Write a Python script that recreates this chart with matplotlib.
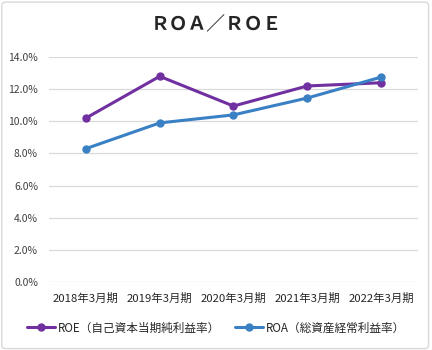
import matplotlib
matplotlib.use("Agg")
import matplotlib.pyplot as plt
from matplotlib.patches import FancyBboxPatch
from matplotlib.ticker import FuncFormatter

plt.rcParams['font.family'] = ['Noto Sans CJK JP', 'DejaVu Sans']

periods = ["2018年3月期", "2019年3月期", "2020年3月期", "2021年3月期", "2022年3月期"]
roe = [10.2, 12.8, 10.95, 12.2, 12.4]
roa = [8.3, 9.9, 10.4, 11.45, 12.75]
yticks = [0, 2, 4, 6, 8, 10, 12, 14]

roe_label = "ROE（自己資本当期純利益率）"
roa_label = "ROA（総資産経常利益率）"
title = "ＲＯＡ／ＲＯＥ"

purple = "#7030A0"
blue = "#3A80C4"
text_color = "#404040"

fig = plt.figure(figsize=(4.32, 3.5), dpi=100)
fig.patch.set_facecolor("white")

# outer chart border
border = FancyBboxPatch((0.004, 0.004), 0.988, 0.99, boxstyle="round,pad=0,rounding_size=0.01",
                        transform=fig.transFigure, fill=False, edgecolor="#D9D9D9", linewidth=1.0)
fig.patches.append(border)

ax = fig.add_axes([0.1134, 0.1943, 0.8542, 0.6427])
x = list(range(len(periods)))
ax.plot(x, roe, color=purple, linewidth=2.2, marker="o", markersize=5, label=roe_label,
        solid_capstyle="round", zorder=3)
ax.plot(x, roa, color=blue, linewidth=2.2, marker="o", markersize=5, label=roa_label,
        solid_capstyle="round", zorder=4)

ax.set_xlim(-0.5, len(periods) - 0.5)
ax.set_ylim(0, 14)
ax.set_yticks(yticks)
ax.yaxis.set_major_formatter(FuncFormatter(lambda v, p: f"{v:.1f}%"))
ax.set_xticks(x)
ax.set_xticklabels(periods)
ax.grid(axis="y", color="#D9D9D9", linewidth=0.9)
ax.set_axisbelow(True)
for s in ax.spines.values():
    s.set_visible(False)
ax.tick_params(axis="y", length=0, labelsize=7.5, colors=text_color, pad=8)
ax.tick_params(axis="x", length=0, labelsize=8.2, colors="#262626", pad=8)

fig.text(0.5, 0.928, title, ha="center", va="center", fontsize=13.5, color="#262626",
         fontweight="bold")

fig.legend(loc="center", bbox_to_anchor=(0.5, 0.063), ncol=2, frameon=False,
           fontsize=8.4, labelcolor="#262626", handlelength=2.4, handletextpad=0.2,
           columnspacing=1.3)

fig.savefig("out.png", dpi=100, facecolor="white")
